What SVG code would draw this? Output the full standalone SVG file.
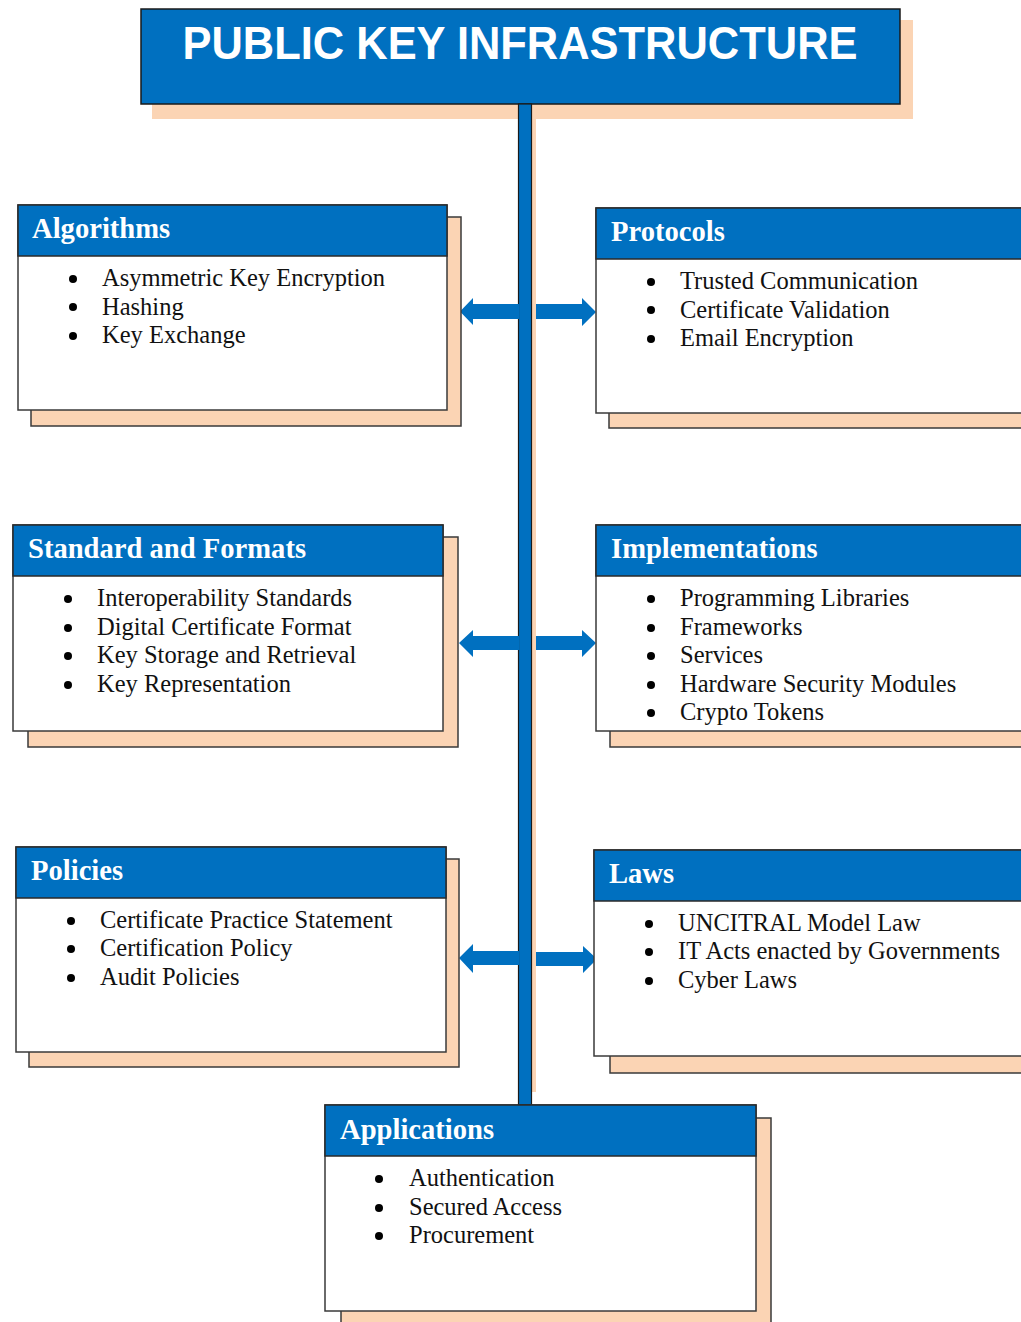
<svg xmlns="http://www.w3.org/2000/svg" width="1021" height="1322" viewBox="0 0 1021 1322">
  <style>
    .shadow { fill: #FBD4B4; stroke: #3a3a3a; stroke-width: 1.5; }
    .body { fill: #FFFFFF; stroke: #3a3a3a; stroke-width: 1.5; }
    .head { fill: #0070C0; stroke: #2a2a2a; stroke-width: 1.5; }
    .htext { font-family: "Liberation Serif", "Times New Roman", serif; font-weight: bold; font-size: 28.6px; fill: #FFFFFF; }
    .item { font-family: "Liberation Serif", "Times New Roman", serif; font-size: 24.5px; fill: #111111; }
    .dot { fill: #000000; }
    .arrow { fill: #0070C0; }
  </style>

  <!-- Title banner -->
  <g id="title">
    <rect x="152" y="20" width="761" height="99" fill="#FBD4B4"/>
    <rect x="141" y="9" width="759" height="95" fill="#0070C0" stroke="#1a1a1a" stroke-width="1.5"/>
    <text x="520" y="59" text-anchor="middle" font-family="'Liberation Sans', Arial, sans-serif" font-weight="bold" font-size="46" fill="#FFFFFF" textLength="675" lengthAdjust="spacingAndGlyphs">PUBLIC KEY INFRASTRUCTURE</text>
  </g>

  <!-- Connectors: central trunk and side arrows -->
  <g id="connectors">
    <rect x="532" y="119" width="4" height="973" fill="#FBD4B4"/>
    <rect x="518.5" y="104" width="13" height="1001" fill="#0070C0" stroke="#1a1a1a" stroke-width="1.2"/>
    <!-- row 1 -->
    <polygon class="arrow" points="460,311.5 473,298 473,304 519,304 519,319 473,319 473,325"/>
    <polygon class="arrow" points="596,312 582,298 582,304 536,304 536,319 582,319 582,326"/>
    <!-- row 2 -->
    <polygon class="arrow" points="459,643 473,630 473,636 519,636 519,650 473,650 473,657"/>
    <polygon class="arrow" points="596,643 582,630 582,636 536,636 536,650 582,650 582,657"/>
    <!-- row 3 -->
    <polygon class="arrow" points="459,958 473,944 473,951 519,951 519,965 473,965 473,973"/>
    <polygon class="arrow" points="597,959 583,946 583,952 536,952 536,966 583,966 583,973"/>
  </g>

  <!-- Algorithms -->
  <g id="algorithms">
    <rect class="shadow" x="31" y="217" width="430" height="209"/>
    <rect class="body" x="18" y="205" width="429" height="205"/>
    <rect class="head" x="18" y="205" width="429" height="51"/>
    <text class="htext" x="32" y="238">Algorithms</text>
    <circle class="dot" cx="73" cy="279" r="4"/>
    <circle class="dot" cx="73" cy="307" r="4"/>
    <circle class="dot" cx="73" cy="336" r="4"/>
    <text class="item" x="102" y="286">Asymmetric Key Encryption</text>
    <text class="item" x="102" y="315">Hashing</text>
    <text class="item" x="102" y="343">Key Exchange</text>
  </g>

  <!-- Protocols -->
  <g id="protocols">
    <rect class="shadow" x="609" y="220" width="440" height="208"/>
    <rect class="body" x="596" y="208" width="440" height="205"/>
    <rect class="head" x="596" y="208" width="440" height="51"/>
    <text class="htext" x="611" y="241">Protocols</text>
    <circle class="dot" cx="651" cy="282" r="4"/>
    <circle class="dot" cx="651" cy="310" r="4"/>
    <circle class="dot" cx="651" cy="339" r="4"/>
    <text class="item" x="680" y="289">Trusted Communication</text>
    <text class="item" x="680" y="318">Certificate Validation</text>
    <text class="item" x="680" y="346">Email Encryption</text>
  </g>

  <!-- Standard and Formats -->
  <g id="standards">
    <rect class="shadow" x="28" y="537" width="430" height="210"/>
    <rect class="body" x="13" y="525" width="430" height="206"/>
    <rect class="head" x="13" y="525" width="430" height="51"/>
    <text class="htext" x="28" y="558">Standard and Formats</text>
    <circle class="dot" cx="68" cy="599" r="4"/>
    <circle class="dot" cx="68" cy="628" r="4"/>
    <circle class="dot" cx="68" cy="656" r="4"/>
    <circle class="dot" cx="68" cy="685" r="4"/>
    <text class="item" x="97" y="606">Interoperability Standards</text>
    <text class="item" x="97" y="635">Digital Certificate Format</text>
    <text class="item" x="97" y="663">Key Storage and Retrieval</text>
    <text class="item" x="97" y="692">Key Representation</text>
  </g>

  <!-- Implementations -->
  <g id="implementations">
    <rect class="shadow" x="610" y="537" width="440" height="210"/>
    <rect class="body" x="596" y="525" width="440" height="206"/>
    <rect class="head" x="596" y="525" width="440" height="51"/>
    <text class="htext" x="611" y="558">Implementations</text>
    <circle class="dot" cx="651" cy="599" r="4"/>
    <circle class="dot" cx="651" cy="628" r="4"/>
    <circle class="dot" cx="651" cy="656" r="4"/>
    <circle class="dot" cx="651" cy="685" r="4"/>
    <circle class="dot" cx="651" cy="713" r="4"/>
    <text class="item" x="680" y="606">Programming Libraries</text>
    <text class="item" x="680" y="635">Frameworks</text>
    <text class="item" x="680" y="663">Services</text>
    <text class="item" x="680" y="692">Hardware Security Modules</text>
    <text class="item" x="680" y="720">Crypto Tokens</text>
  </g>

  <!-- Policies -->
  <g id="policies">
    <rect class="shadow" x="29" y="859" width="430" height="208"/>
    <rect class="body" x="16" y="847" width="430" height="205"/>
    <rect class="head" x="16" y="847" width="430" height="51"/>
    <text class="htext" x="31" y="880">Policies</text>
    <circle class="dot" cx="71" cy="921" r="4"/>
    <circle class="dot" cx="71" cy="949" r="4"/>
    <circle class="dot" cx="71" cy="978" r="4"/>
    <text class="item" x="100" y="928">Certificate Practice Statement</text>
    <text class="item" x="100" y="956">Certification Policy</text>
    <text class="item" x="100" y="985">Audit Policies</text>
  </g>

  <!-- Laws -->
  <g id="laws">
    <rect class="shadow" x="610" y="862" width="440" height="211"/>
    <rect class="body" x="594" y="850" width="442" height="206"/>
    <rect class="head" x="594" y="850" width="442" height="51"/>
    <text class="htext" x="609" y="883">Laws</text>
    <circle class="dot" cx="649" cy="924" r="4"/>
    <circle class="dot" cx="649" cy="952" r="4"/>
    <circle class="dot" cx="649" cy="981" r="4"/>
    <text class="item" x="678" y="931">UNCITRAL Model Law</text>
    <text class="item" x="678" y="959">IT Acts enacted by Governments</text>
    <text class="item" x="678" y="988">Cyber Laws</text>
  </g>

  <!-- Applications -->
  <g id="applications">
    <rect class="shadow" x="341" y="1118" width="430" height="220"/>
    <rect class="body" x="325" y="1105" width="431" height="206"/>
    <rect class="head" x="325" y="1105" width="431" height="51"/>
    <text class="htext" x="340" y="1139">Applications</text>
    <circle class="dot" cx="379" cy="1179" r="4"/>
    <circle class="dot" cx="379" cy="1208" r="4"/>
    <circle class="dot" cx="379" cy="1236" r="4"/>
    <text class="item" x="409" y="1186">Authentication</text>
    <text class="item" x="409" y="1215">Secured Access</text>
    <text class="item" x="409" y="1243">Procurement</text>
  </g>
</svg>
